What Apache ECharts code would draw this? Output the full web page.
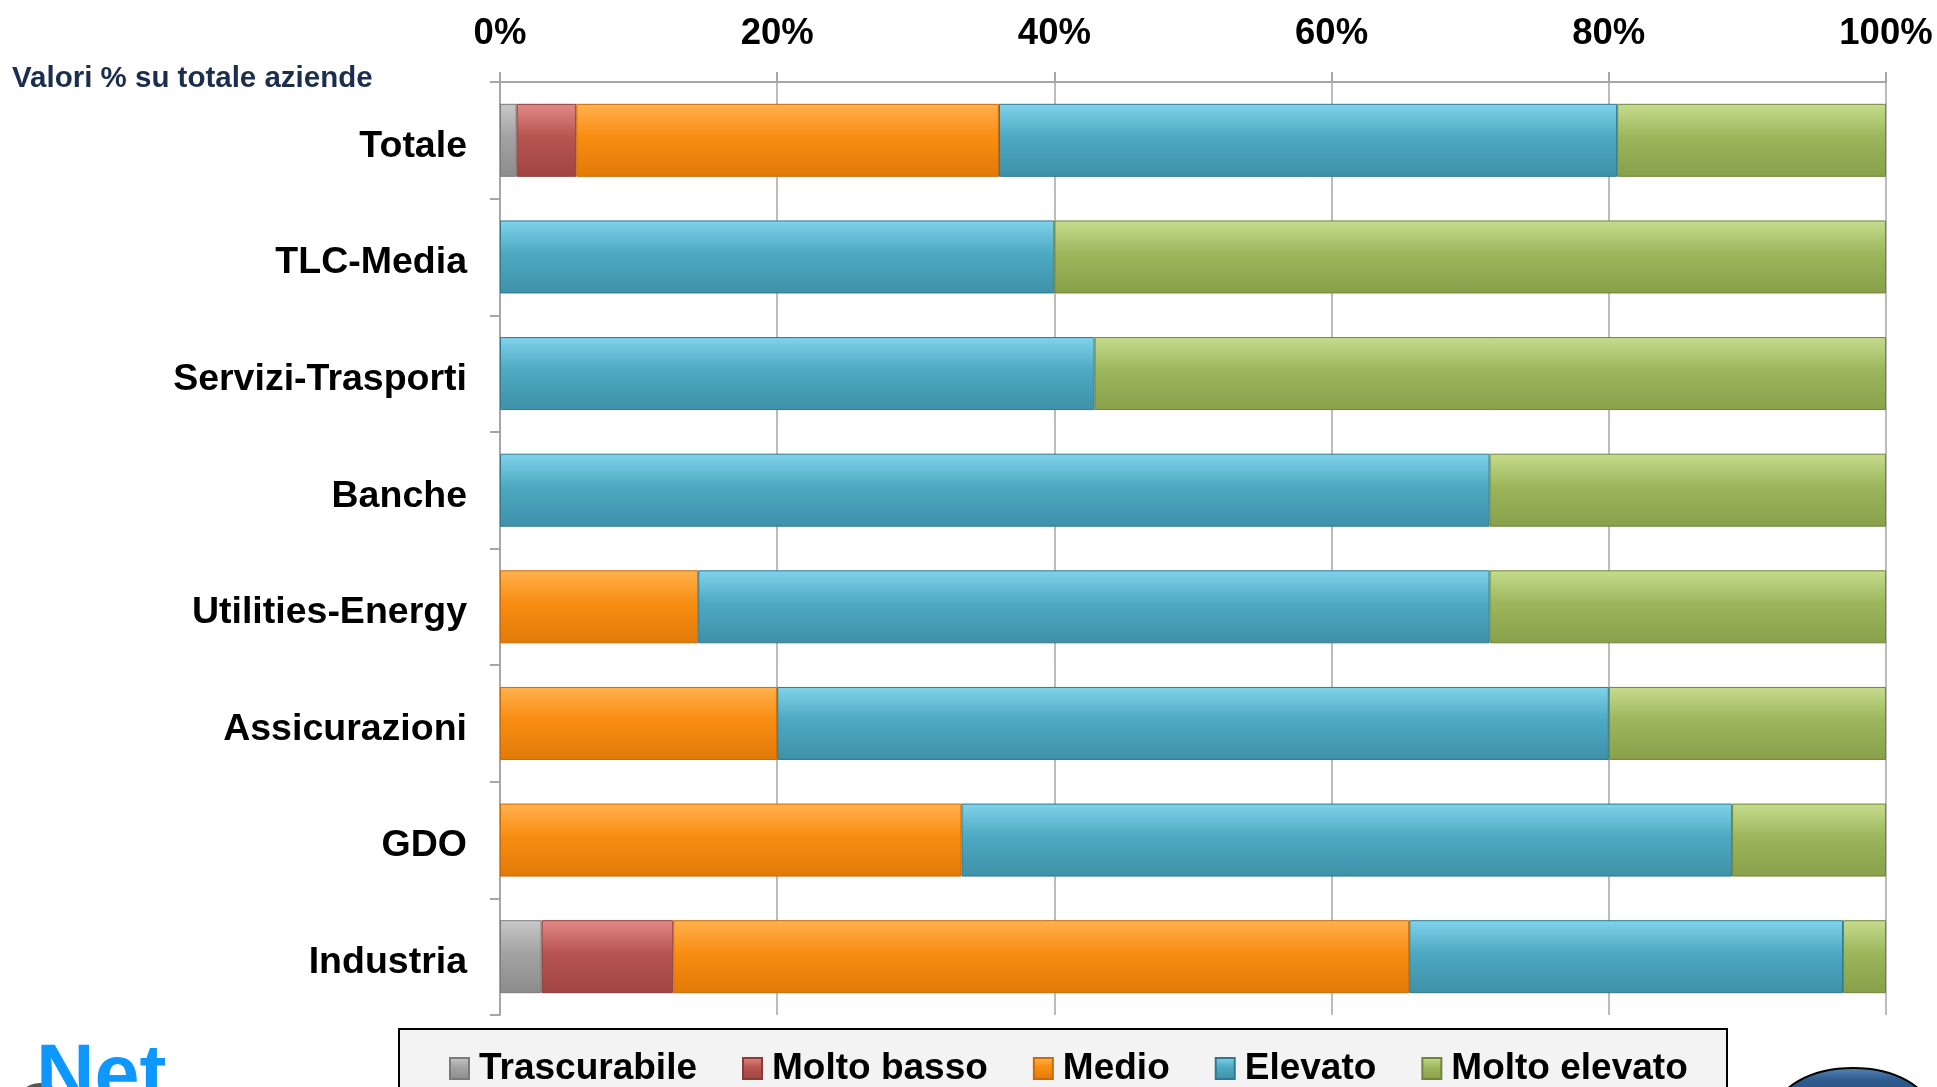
<!DOCTYPE html>
<html>
<head>
<meta charset="utf-8">
<script src="https://cdn.jsdelivr.net/npm/echarts@6/dist/echarts.min.js"></script>
<style>
html,body{margin:0;padding:0;background:#fff;}
#chart{width:1937px;height:1087px;}
</style>
</head>
<body>
<div id="chart"></div>
<script>
const categories = ['Totale','TLC-Media','Servizi-Trasporti','Banche','Utilities-Energy','Assicurazioni','GDO','Industria'];
const seriesNames = ['Trascurabile','Molto basso','Medio','Elevato','Molto elevato'];
const trascurabile = [1.2, 0, 0, 0, 0, 0, 0, 3.0];
const moltoBasso   = [4.3, 0, 0, 0, 0, 0, 0, 9.5];
const medio        = [30.5, 0, 0, 0, 14.3, 20.0, 33.3, 53.1];
const elevato      = [44.6, 40.0, 42.9, 71.4, 57.1, 60.0, 55.6, 31.3];
const moltoElevato = [19.4, 60.0, 57.1, 28.6, 28.6, 20.0, 11.1, 3.1];
const xTicks = [0, 20, 40, 60, 80, 100];

const FONT = 'Arial, "Liberation Sans", sans-serif';
const palette = [
  {top:'#c8c8c8', mid:'#a3a3a3', bot:'#8c8c8c', border:'#7a7a7a'},
  {top:'#e38a86', mid:'#b65450', bot:'#a14542', border:'#8a3a37'},
  {top:'#ffb14f', mid:'#f98d12', bot:'#e27a08', border:'#c86a06'},
  {top:'#80d3ea', mid:'#4ea9c3', bot:'#3e91a8', border:'#2f7890'},
  {top:'#c6dc8e', mid:'#9db65c', bot:'#88a04a', border:'#6f863a'}
];
function grad(p){
  return new echarts.graphic.LinearGradient(0,0,0,1,[
    {offset:0,color:p.top},{offset:0.45,color:p.mid},{offset:1,color:p.bot}
  ]);
}
const values = [trascurabile, moltoBasso, medio, elevato, moltoElevato];
const series = values.map((arr,i)=>({
  name: seriesNames[i],
  type: 'bar',
  stack: 'total',
  barWidth: 73,
  data: arr.map(v => v === 0 ? null : v),
  itemStyle: {color: grad(palette[i]), borderColor: palette[i].border, borderWidth: 1}
}));

const chart = echarts.init(document.getElementById('chart'));
chart.setOption({
  animation: false,
  backgroundColor: '#ffffff',
  grid: {left: 500, right: 51, top: 82, bottom: 72, containLabel: false},
  xAxis: {
    type: 'value', position: 'top', min: 0, max: 100, interval: 20,
    axisLine: {show: true, lineStyle: {color: '#a6a6a6', width: 2}},
    axisTick: {show: true, length: 10, lineStyle: {color: '#a6a6a6', width: 2}},
    splitLine: {show: true, lineStyle: {color: '#a6a6a6', width: 1.5}},
    axisLabel: {
      formatter: v => xTicks.includes(v) ? v + '%' : '',
      margin: 30, color: '#000', fontFamily: FONT, fontWeight: 'bold', fontSize: 36.5
    }
  },
  yAxis: {
    type: 'category', data: categories, inverse: true,
    axisLine: {show: true, lineStyle: {color: '#a6a6a6', width: 2}},
    axisTick: {show: true, length: 10, lineStyle: {color: '#a6a6a6', width: 2}},
    axisLabel: {
      margin: 33,
      formatter: v => '{c|' + v + '}',
      rich: {c: {color: '#000', fontFamily: FONT, fontWeight: 'bold', fontSize: 37.5, padding: [12,0,0,0]}}
    }
  },
  legend: {
    data: seriesNames,
    left: 444, top: 1045, z: 20,
    icon: 'rect', itemWidth: 19, itemHeight: 21, itemGap: 45,
    textStyle: {color: '#000', fontFamily: FONT, fontWeight: 'bold', fontSize: 37, padding: [0,0,0,5]}
  },
  graphic: [
    {type: 'rect', z: 1, shape: {x: 399, y: 1029, width: 1328, height: 80}, style: {fill: '#f3f3f3', stroke: '#000', lineWidth: 2}},
    {type: 'text', z: 5, left: 12, top: 64, style: {text: 'Valori % su totale aziende', fill: '#1b2e4e', font: 'bold 29.5px ' + FONT}},
    {type: 'text', z: 5, x: 36, y: 1038, style: {text: 'Net', fill: '#0e97ff', font: 'bold 81px ' + FONT}},
    {type: 'circle', z: 4, shape: {cx: 40, cy: 1107, r: 24}, style: {fill: '#555'}},
    {type: 'ellipse', z: 4, shape: {cx: 1853, cy: 1112, rx: 77, ry: 44},
      style: {fill: new echarts.graphic.LinearGradient(0,0,0,1,[{offset:0,color:'#5a86b8'},{offset:0.15,color:'#2c5a8c'},{offset:1,color:'#1b3f68'}]), stroke: '#000', lineWidth: 2}}
  ],
  series: series
});
</script>
</body>
</html>
